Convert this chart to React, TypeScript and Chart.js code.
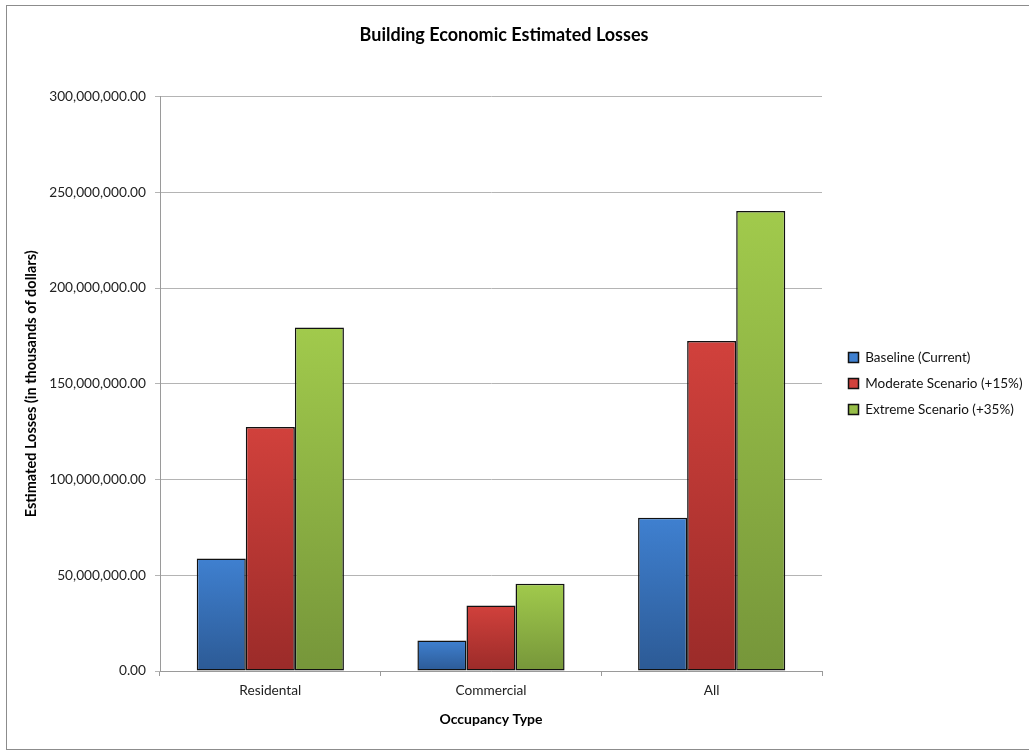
import React, { useEffect, useRef } from "react";
import { Chart, registerables } from "chart.js";

Chart.register(...registerables);

// Occupancy categories and loss estimates (dollars)
const categories = ["Residental", "Commercial", "All"];
const baselineLosses = [58700000, 15900000, 80000000];
const moderateLosses = [127400000, 34200000, 172400000];
const extremeLosses = [179400000, 45600000, 240200000];
const seriesNames = [
  "Baseline (Current)",
  "Moderate Scenario (+15%)",
  "Extreme Scenario (+35%)",
];
const yTickValues = [0, 50000000, 100000000, 150000000, 200000000, 250000000, 300000000];

const FONT = "Lato, 'Liberation Sans', sans-serif";
const CANVAS_W = 1022;
const CANVAS_H = 743;
const LEGEND_W = 207;

// vertical shade per bar: lighter at the top, darker at the base
const barFill = (top: string, bottom: string) => (ctx: any) => {
  const chart = ctx.chart;
  const y = chart.scales && chart.scales.y;
  if (!y || ctx.type !== "data" || typeof ctx.raw !== "number") return top;
  const y0 = y.getPixelForValue(ctx.raw);
  const y1 = y.getPixelForValue(0);
  if (!isFinite(y0) || !isFinite(y1) || y0 === y1) return top;
  const g = chart.ctx.createLinearGradient(0, y0, 0, y1);
  g.addColorStop(0, top);
  g.addColorStop(1, bottom);
  return g;
};

// fixed legend column width, legend nudged right of the plot, title re-centred
const placeBlocks = {
  id: "placeBlocks",
  beforeLayout(chart: any) {
    const lg = chart.legend;
    if (lg && !lg.__fixedWidth) {
      const fit = lg.fit.bind(lg);
      lg.fit = () => {
        fit();
        lg.width = LEGEND_W;
      };
      lg.__fixedWidth = true;
    }
  },
  afterLayout(chart: any) {
    const lg = chart.legend;
    if (lg) {
      const w = lg.right - lg.left;
      lg.left = chart.chartArea.right + 14;
      lg.right = lg.left + w;
      lg.top += 6;
      lg.bottom += 6;
    }
    const tb = chart.titleBlock;
    if (tb) {
      const w = tb.right - tb.left;
      const center = 497;
      tb.left = center - w / 2;
      tb.right = center + w / 2;
    }
  },
};

export default function App() {
  const ref = useRef<HTMLCanvasElement | null>(null);

  useEffect(() => {
    if (!ref.current) return;
    const chart = new Chart(ref.current, {
      type: "bar",
      data: {
        labels: categories,
        datasets: [
          {
            label: seriesNames[0],
            data: baselineLosses,
            backgroundColor: barFill("#3f80d0", "#2c5a95"),
          },
          {
            label: seriesNames[1],
            data: moderateLosses,
            backgroundColor: barFill("#d1413c", "#9b2b29"),
          },
          {
            label: seriesNames[2],
            data: extremeLosses,
            backgroundColor: barFill("#a1ca4c", "#76963a"),
          },
        ].map((d) => ({
          ...d,
          borderColor: "#111111",
          borderWidth: 1.5,
          borderSkipped: false,
          categoryPercentage: 0.667,
          barPercentage: 1,
        })),
      },
      options: {
        responsive: false,
        animation: false,
        layout: { padding: { left: 0, right: 0, top: 0, bottom: 0 } },
        plugins: {
          tooltip: { enabled: false },
          title: {
            display: true,
            text: "Building Economic Estimated Losses",
            color: "#000",
            font: { family: FONT, size: 18, weight: "bold" },
            padding: { top: 18, bottom: 51 },
          },
          legend: {
            position: "right",
            align: "center",
            labels: {
              color: "#111",
              font: { family: FONT, size: 13.5 },
              boxWidth: 10,
              boxHeight: 10,
              padding: 12.5,
            },
          },
        },
        scales: {
          x: {
            offset: true,
            afterFit(scale: any) {
              scale.height = 78;
            },
            grid: {
              display: true,
              offset: true,
              drawOnChartArea: false,
              drawTicks: true,
              tickLength: 5,
              color: "#9a9a9a",
            },
            border: { display: true, color: "#9a9a9a" },
            ticks: {
              color: "#222",
              font: { family: FONT, size: 13.7 },
              padding: 6,
            },
            title: {
              display: true,
              text: "Occupancy Type",
              color: "#000",
              font: { family: FONT, size: 14, weight: "bold" },
              padding: { top: 0, bottom: 21 },
            },
          },
          y: {
            min: 0,
            max: 300000000,
            afterFit(scale: any) {
              scale.width = 153;
            },
            afterBuildTicks(scale: any) {
              scale.ticks = yTickValues.map((v) => ({ value: v }));
            },
            grid: {
              color: "#b4b4b4",
              drawTicks: true,
              tickLength: 5,
            },
            border: { display: true, color: "#9a9a9a" },
            ticks: {
              color: "#222",
              font: { family: FONT, size: 13.7 },
              padding: 9,
              callback: (v: any) =>
                Number(v).toLocaleString("en-US", {
                  minimumFractionDigits: 2,
                  maximumFractionDigits: 2,
                }),
            },
            title: {
              display: true,
              text: "Estimated Losses (in thousands of dollars)",
              color: "#000",
              font: { family: FONT, size: 14.5, weight: "bold" },
              padding: { top: 16, bottom: 0 },
            },
          },
        },
      },
      plugins: [placeBlocks],
    });
    return () => chart.destroy();
  }, []);

  return (
    <div
      style={{
        position: "absolute",
        left: 6,
        top: 5,
        width: CANVAS_W,
        height: CANVAS_H,
        overflow: "hidden",
        borderLeft: "1px solid #8c8c8c",
        borderTop: "1px solid #8c8c8c",
        borderBottom: "1px solid #8c8c8c",
        background: "#fff",
      }}
    >
      <canvas ref={ref} width={CANVAS_W} height={CANVAS_H} style={{ display: "block" }} />
    </div>
  );
}
